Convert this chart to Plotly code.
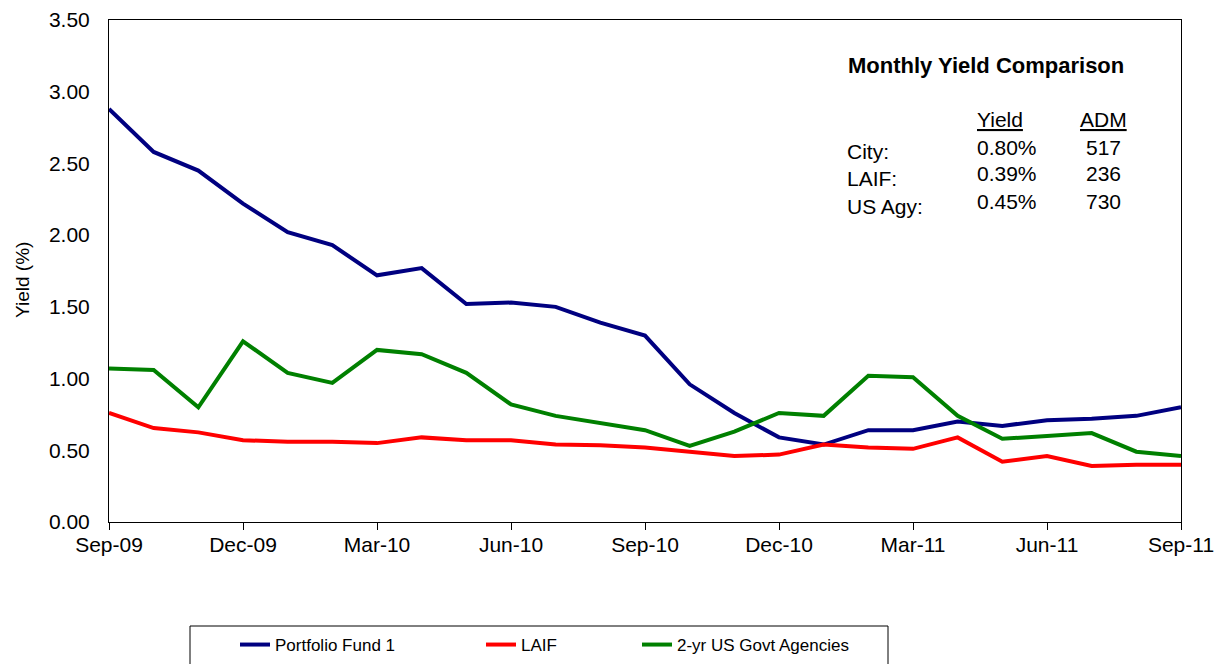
import plotly.graph_objects as go

months = ["Sep-09", "Oct-09", "Nov-09", "Dec-09", "Jan-10", "Feb-10", "Mar-10", "Apr-10",
          "May-10", "Jun-10", "Jul-10", "Aug-10", "Sep-10", "Oct-10", "Nov-10", "Dec-10",
          "Jan-11", "Feb-11", "Mar-11", "Apr-11", "May-11", "Jun-11", "Jul-11", "Aug-11", "Sep-11"]

portfolio_fund_1 = [2.88, 2.58, 2.45, 2.22, 2.02, 1.93, 1.72, 1.77, 1.52, 1.53, 1.50, 1.39, 1.30,
                    0.96, 0.76, 0.59, 0.54, 0.64, 0.64, 0.70, 0.67, 0.71, 0.72, 0.74, 0.80]
laif = [0.76, 0.655, 0.625, 0.57, 0.56, 0.56, 0.55, 0.59, 0.57, 0.57, 0.54, 0.535, 0.52,
        0.49, 0.46, 0.47, 0.54, 0.52, 0.51, 0.59, 0.42, 0.46, 0.39, 0.40, 0.40]
us_agencies = [1.07, 1.06, 0.80, 1.26, 1.04, 0.97, 1.20, 1.17, 1.04, 0.82, 0.74, 0.69, 0.64,
               0.53, 0.63, 0.76, 0.74, 1.02, 1.01, 0.74, 0.58, 0.60, 0.62, 0.49, 0.46]

series_names = ["Portfolio Fund 1", "LAIF", "2-yr US Govt Agencies"]
series_colors = ["#000080", "#FF0000", "#008000"]

tick_labels = months[::3]
y_ticks = [0.0, 0.5, 1.0, 1.5, 2.0, 2.5, 3.0, 3.5]

box_title = "Monthly Yield Comparison"
box_rows = ["City:", "LAIF:", "US Agy:"]
box_yield = ["0.80%", "0.39%", "0.45%"]
box_adm = ["517", "236", "730"]

W, H = 1225, 664
# plot area in reference pixel coordinates
L, R, T, B = 109, 1181, 17, 519
# the page body adds an 8px margin; shift the figure back so it lines up
OFFX, OFFY = 8, 5
FONT = "Arial, Liberation Sans, sans-serif"


def px(x):
    return (x - L) / (R - L)


def py(y):
    return (B - y) / (B - T)


fig = go.Figure()
legend_ids = ["legend2", "legend3", "legend4"]
for name, vals, col, lg in zip(series_names, [portfolio_fund_1, laif, us_agencies], series_colors, legend_ids):
    fig.add_trace(go.Scatter(x=months, y=vals, mode="lines", name=name,
                             line=dict(color=col, width=4), legend=lg, showlegend=True))

annotations = []


def ann(text, x, y, xanchor="left", size=21, bold=False):
    annotations.append(dict(text=("<b>%s</b>" % text) if bold else text, x=px(x), y=py(y),
                            xref="paper", yref="paper", xanchor=xanchor, yanchor="middle",
                            showarrow=False, font=dict(family=FONT, size=size, color="black")))


ann(box_title, 986, 62, "center", 22, True)
ann("<u>Yield</u>", 1000, 116, "center")
ann("<u>ADM</u>", 1103, 116, "center")
for i, (r, yv, a) in enumerate(zip(box_rows, box_yield, box_adm)):
    ann(r, 845, 148 + i * 27.5)
    ann(yv, 1007, 144 + i * 27, "center")
    ann(a, 1103, 144 + i * 27, "center")

annotations.append(dict(text="Yield (%)", x=px(22), y=py(277), xref="paper", yref="paper",
                        textangle=-90, showarrow=False, xanchor="center", yanchor="middle",
                        font=dict(family=FONT, size=19, color="black")))

legend_text_x = [274, 520, 676]
legends = {}
for lg, tx in zip(legend_ids, legend_text_x):
    legends[lg] = dict(x=px(tx - 39), y=py(642), xanchor="left", yanchor="middle",
                       orientation="h", bgcolor="rgba(0,0,0,0)", borderwidth=0,
                       font=dict(family=FONT, size=17, color="black"))

fig.update_layout(
    width=W, height=H,
    margin=dict(l=L - OFFX, r=W - R + OFFX, t=T - OFFY, b=H - B + OFFY, autoexpand=False),
    paper_bgcolor="white", plot_bgcolor="white",
    font=dict(family=FONT, size=21, color="black"),
    showlegend=True,
    annotations=annotations,
    shapes=[dict(type="rect", xref="paper", yref="paper", x0=px(190), x1=px(888),
                 y0=py(623), y1=py(700), line=dict(color="black", width=1))],
    **legends,
)

fig.update_xaxes(type="category", range=[0, len(months) - 1], tickmode="array",
                 tickvals=tick_labels, ticktext=tick_labels, ticks="outside", ticklen=7,
                 tickcolor="black", showline=True, linecolor="black", linewidth=1, mirror=True,
                 showgrid=False, zeroline=False, automargin=False, ticklabelstandoff=-3,
                 ticklabeloverflow="allow", tickfont=dict(family=FONT, size=21))
fig.update_yaxes(range=[0, 3.5], tickvals=y_ticks, tickformat=".2f", showline=True,
                 linecolor="black", linewidth=1, mirror=True, showgrid=False, zeroline=False,
                 ticks="", automargin=False, ticklabelstandoff=14, ticklabeloverflow="allow",
                 tickfont=dict(family=FONT, size=21))

fig.write_html("out.html")
